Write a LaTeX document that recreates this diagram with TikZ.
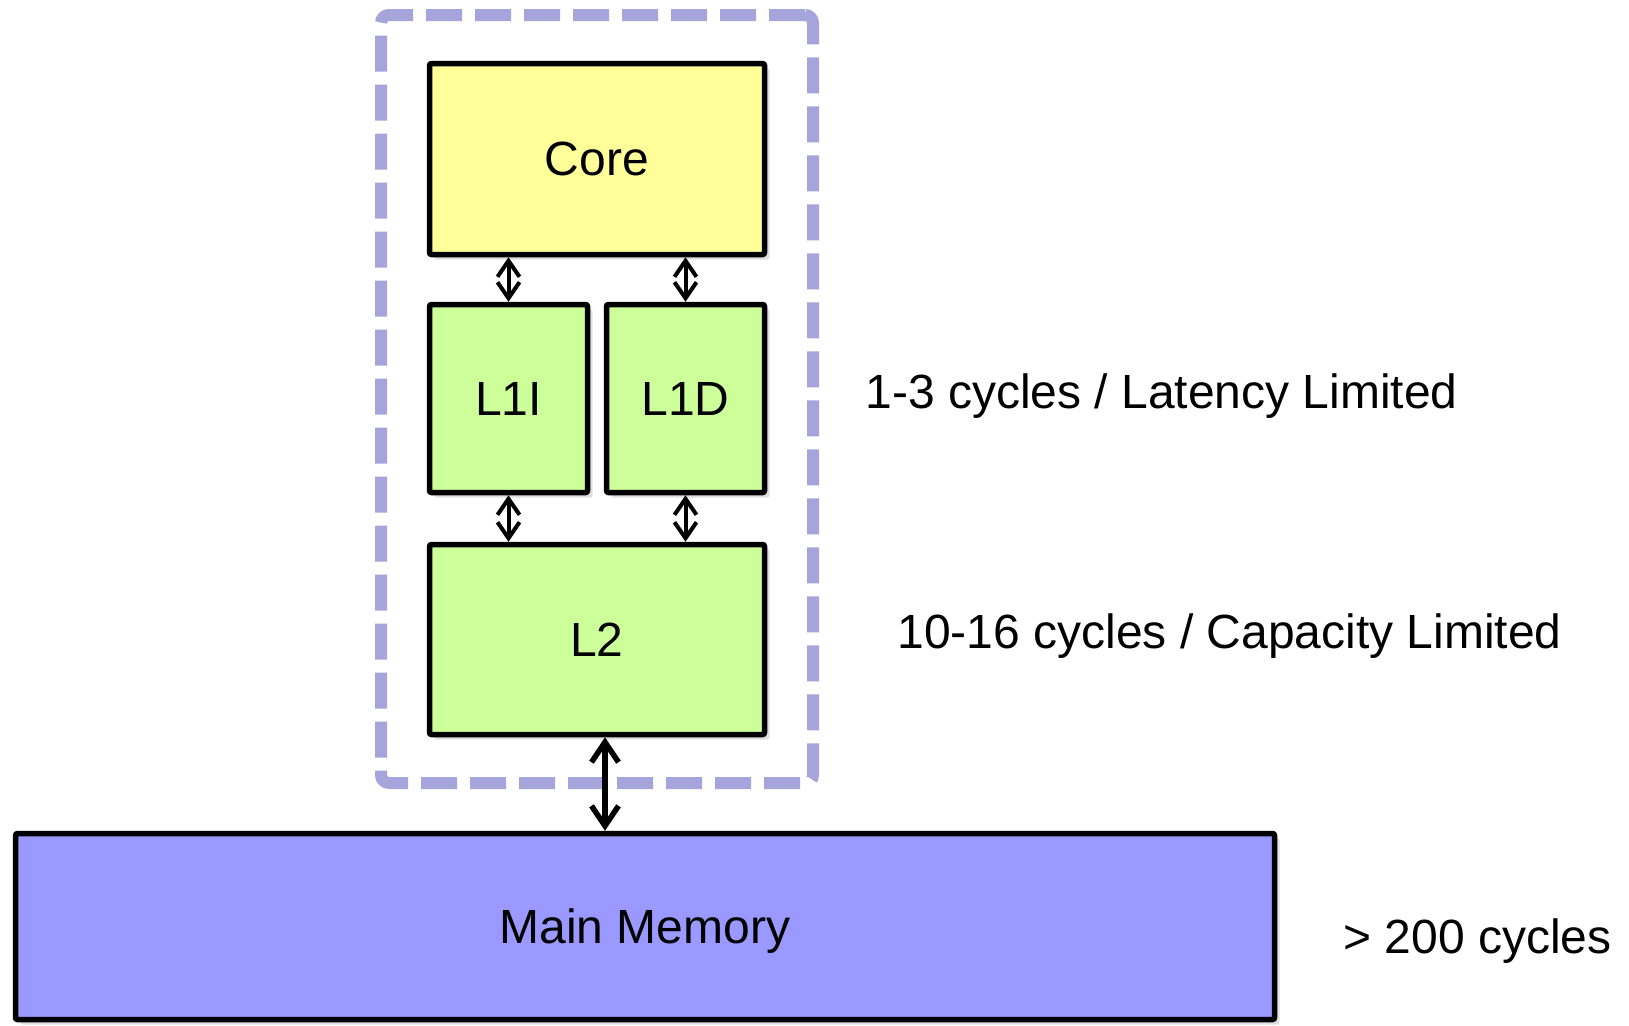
\documentclass[tikz,border=0pt]{standalone}
\usepackage{fontspec}
\setmainfont{Liberation Sans}
\usetikzlibrary{arrows.meta,shadows}
\definecolor{coreyellow}{RGB}{255,255,153}
\definecolor{cachegreen}{RGB}{204,255,153}
\definecolor{memblue}{RGB}{153,153,255}
\definecolor{chipline}{RGB}{165,165,220}
\begin{document}
\begin{tikzpicture}[x=0.5pt,y=-0.5pt,
  font=\fontsize{24}{29}\selectfont,
  unit/.style={draw=black,line width=2.75pt,inner sep=0pt,text depth=0pt,rounded corners=1pt,
    drop shadow={shadow xshift=2.5pt,shadow yshift=-2.5pt,opacity=0.25}},
  link/.style={line width=2pt,{Straight Barb[length=8pt,width=11pt]}-{Straight Barb[length=8pt,width=11pt]}},
  biglink/.style={line width=2.75pt,{Straight Barb[length=10pt,width=13.5pt]}-{Straight Barb[length=10pt,width=13.5pt]}},
  chip/.style={draw=chipline,line width=6pt,dash pattern=on 18pt off 6.5pt,rounded corners=4pt,inner sep=0pt},
  note/.style={anchor=base west,inner sep=0pt}]
\useasboundingbox (0,0) rectangle (1629,1025);

\node[chip,minimum width=216pt,minimum height=384pt] (cpu) at (597,399) {};

\node[unit,fill=coreyellow,minimum width=167.5pt,minimum height=95.5pt] (core) at (597,159) {Core};
\node[unit,fill=cachegreen,minimum width=79pt,minimum height=94pt] (l1i) at (508.5,398.5) {L1I};
\node[unit,fill=cachegreen,minimum width=79pt,minimum height=94pt] (l1d) at (685.5,398.5) {L1D};
\node[unit,fill=cachegreen,minimum width=167.5pt,minimum height=95pt] (l2) at (597,639.5) {L2};
\node[unit,fill=memblue,minimum width=629.5pt,minimum height=93pt] (mem) at (645,926.5) {Main Memory};

\draw[link] (l1i.north) -- (l1i.north |- core.south);
\draw[link] (l1d.north) -- (l1d.north |- core.south);
\draw[link] (l1i.south) -- (l1i.south |- l2.north);
\draw[link] (l1d.south) -- (l1d.south |- l2.north);
\draw[biglink] ([xshift=4pt]l2.south) -- ([xshift=4pt]l2.south |- mem.north);

\node[note] (lat) at (865,408) {1-3 cycles / Latency Limited};
\node[note] (cap) at (897,648) {10-16 cycles / Capacity Limited};
\node[note] (dram) at (1343,953) {> 200 cycles};
\end{tikzpicture}
\end{document}
